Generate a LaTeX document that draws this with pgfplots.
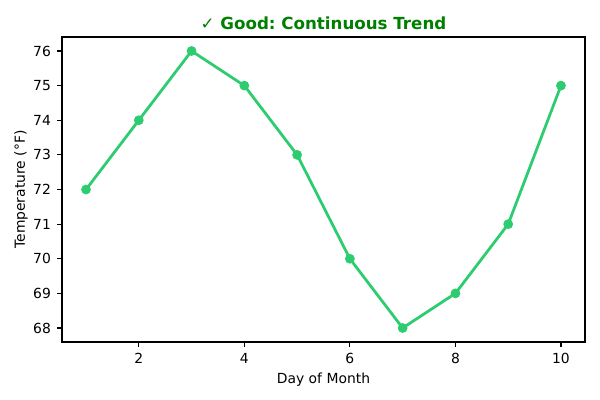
\documentclass[border=0pt]{standalone}
\usepackage{fontspec}
\setmainfont{DejaVu Sans}
\usepackage{pgfplots}
\pgfplotsset{compat=1.18}
\definecolor{linegreen}{HTML}{2ECC71}
\definecolor{titlegreen}{RGB}{0,128,0}
\frenchspacing

\begin{document}
\begin{tikzpicture}
\useasboundingbox (-44.64pt,-41.76pt) rectangle (387.36pt,246.24pt);
\begin{axis}[
  at={(0,0)}, anchor=south west,
  scale only axis,
  width=376.56pt, height=219.6pt,
  xmin=0.545, xmax=10.455,
  ymin=67.596, ymax=76.404,
  xtick={2,4,6,8,10},
  ytick={68,69,70,71,72,73,74,75,76},
  xtick pos=bottom, ytick pos=left,
  tick align=outside,
  major tick length=3.5pt,
  every tick/.style={black, line width=0.8pt},
  axis line style={line width=0.8pt},
  tick label style={font=\fontsize{10}{12}\selectfont},
  /pgf/number format/assume math mode=true,
  xticklabel style={yshift=-1pt},
  yticklabel style={xshift=-1pt},
  xlabel={Day of Month},
  ylabel={Temperature (°F)},
  label style={font=\fontsize{10}{12}\selectfont},
  ylabel style={yshift=-3pt},
  title={\textbf{✓ Good: Continuous Trend}},
  title style={font=\fontsize{12}{14}\selectfont, text=titlegreen, yshift=-4pt},
]
\addplot[color=linegreen, line width=2pt, mark=*, mark size=3.2pt, mark options={fill=linegreen, draw=linegreen, solid, line width=0.6pt}]
coordinates {
  (1,72) (2,74) (3,76) (4,75) (5,73) (6,70) (7,68) (8,69) (9,71) (10,75)
};
\end{axis}
\end{tikzpicture}
\end{document}
